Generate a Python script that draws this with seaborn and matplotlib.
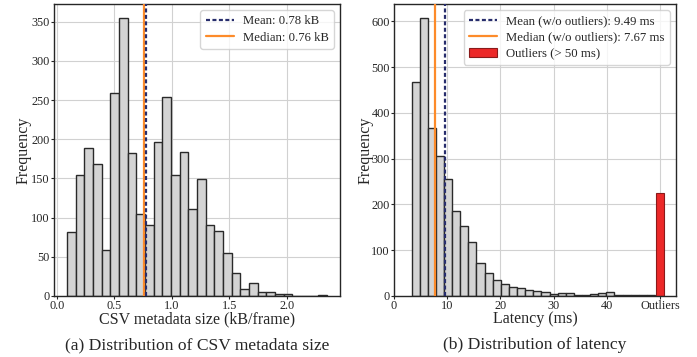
import numpy as np
import pandas as pd
import matplotlib
matplotlib.use("Agg")
import matplotlib.pyplot as plt
import seaborn as sns

# ---- data ----
size_range = (0.09, 2.35)
size_counts = [82, 155, 189, 169, 59, 259, 355, 182, 105, 90,
               197, 254, 155, 184, 111, 149, 91, 83, 55, 29,
               9, 16, 5, 5, 3, 2, 0, 0, 0, 1]
size_mean = 0.78
size_median = 0.76

lat_range = (3.3, 49.05)
lat_counts = [468, 608, 368, 306, 256, 186, 154, 119, 73, 50,
              34, 26, 20, 17, 12, 10, 8, 4, 7, 6,
              2, 2, 5, 6, 8, 3, 1, 1, 1, 1]
lat_mean = 9.49
lat_median = 7.67
outlier_pos = 50
outlier_count = 225
lat_ticks = [0, 10, 20, 30, 40, 50]
lat_ticklabels = ["0", "10", "20", "30", "40", "Outliers"]

# ---- style ----
sns.set_style("whitegrid", {
    "axes.edgecolor": "0.15",
    "grid.color": "0.82",
    "xtick.bottom": True,
    "ytick.left": True,
})
plt.rcParams["font.family"] = ["Liberation Serif", "DejaVu Serif"]
plt.rcParams["xtick.major.size"] = 2.2
plt.rcParams["ytick.major.size"] = 2.2
plt.rcParams["xtick.major.pad"] = 0.8
plt.rcParams["ytick.major.pad"] = 0.8
plt.rcParams["axes.linewidth"] = 1.0

BAR = "#d4d4d4"
EDGE = "#2a2a2a"
NAVY = "#272d6c"
ORANGE = "#fd8b2a"
RED = "#ec2828"
DASH = (1.8, 1.1)

fig = plt.figure(figsize=(6.97, 3.57), dpi=100)
ax1 = fig.add_axes([0.0775, 0.171, 0.4103, 0.818])
ax2 = fig.add_axes([0.5653, 0.171, 0.4046, 0.818])


def hist_from_counts(ax, rng, counts):
    n = len(counts)
    w = (rng[1] - rng[0]) / n
    centers = rng[0] + w * (np.arange(n) + 0.5)
    df = pd.DataFrame({"x": centers, "w": np.asarray(counts, dtype=float)})
    sns.histplot(data=df, x="x", weights="w", bins=n, binrange=rng, ax=ax,
                 color=BAR, edgecolor=EDGE, linewidth=1.0, alpha=1.0)


leg_kw = dict(loc="upper right", fontsize=9.2, frameon=True, borderaxespad=0.5,
              handlelength=2.2, labelspacing=0.32, borderpad=0.4, handletextpad=0.7)

# ---- (a) ----
hist_from_counts(ax1, size_range, size_counts)
med1 = ax1.axvline(size_median, color=ORANGE, lw=1.6, zorder=3)
mean1 = ax1.axvline(size_mean, color=NAVY, lw=1.6, ls="--", dashes=DASH, zorder=4)
ax1.legend([mean1, med1],
           [f"Mean: {size_mean:.2f} kB", f"Median: {size_median:.2f} kB"], **leg_kw)
ax1.set_xlabel("CSV metadata size (kB/frame)", fontsize=11.5, labelpad=-0.5)
ax1.set_ylabel("Frequency", fontsize=11.5, labelpad=-0.5)
ax1.set_xticks([0.0, 0.5, 1.0, 1.5, 2.0])
ax1.tick_params(labelsize=8.8)

# ---- (b) ----
hist_from_counts(ax2, lat_range, lat_counts)
out_bars = ax2.bar([outlier_pos], [outlier_count], width=1.5, color=RED,
                   edgecolor="#8a1a1a", linewidth=0.8, zorder=2)
med2 = ax2.axvline(lat_median, color=ORANGE, lw=1.6, zorder=3)
mean2 = ax2.axvline(lat_mean, color=NAVY, lw=1.6, ls="--", dashes=DASH, zorder=4)
ax2.legend([mean2, med2, out_bars.patches[0]],
           [f"Mean (w/o outliers): {lat_mean:.2f} ms",
            f"Median (w/o outliers): {lat_median:.2f} ms",
            "Outliers (> 50 ms)"], **leg_kw)
ax2.set_xlim(0, 53)
ax2.set_xticks(lat_ticks)
ax2.set_xticklabels(lat_ticklabels)
ax2.set_xlabel("Latency (ms)", fontsize=11.5, labelpad=-0.5)
ax2.set_ylabel("Frequency", fontsize=11.5, labelpad=-1.5)
ax2.tick_params(labelsize=8.8)

for ax in (ax1, ax2):
    ax.set_axisbelow(True)

fig.text(0.2826, 0.022, "(a) Distribution of CSV metadata size", ha="center",
         va="baseline", fontsize=12.6)
fig.text(0.7676, 0.022, "(b) Distribution of latency", ha="center",
         va="baseline", fontsize=12.6)

fig.savefig("out.png", dpi=100)
